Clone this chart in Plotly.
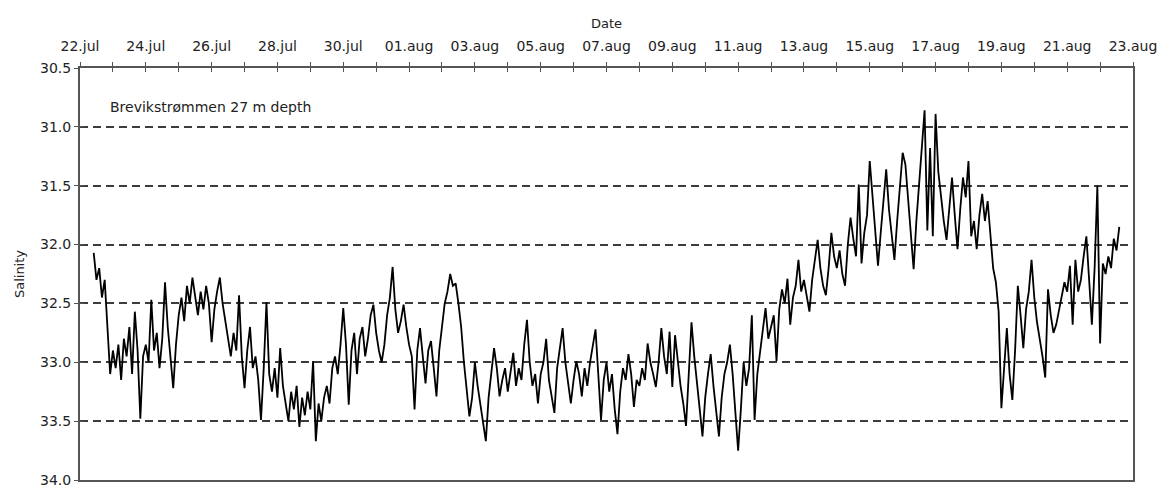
import plotly.graph_objects as go
import pandas as pd

# Salinity, 2-hourly, starting 22.jul 10:00
week1 = [32.07, 32.30, 32.20, 32.45, 32.30, 32.76, 33.10,
         32.90, 33.05, 32.85, 33.15, 32.80, 32.95, 32.70, 33.10, 32.57, 32.90, 33.48, 32.95,
         32.85, 33.00, 32.47, 32.90, 32.75, 33.05, 32.80, 32.32, 32.70, 32.95, 33.22, 32.85,
         32.60, 32.45, 32.65, 32.35, 32.50, 32.28, 32.45, 32.60, 32.40, 32.55, 32.35, 32.50,
         32.83, 32.55, 32.40, 32.28, 32.50, 32.65, 32.80, 32.95, 32.75, 32.90, 32.43, 32.95,
         33.22, 32.90, 32.70, 33.05, 32.95, 33.15, 33.49, 33.05, 32.49, 33.10, 33.25, 33.05,
         33.30, 32.88, 33.20, 33.35, 33.50, 33.25, 33.40, 33.20, 33.55, 33.30, 33.45, 33.25]
week2 = [33.40, 32.99, 33.67, 33.35, 33.50, 33.30, 33.20, 33.35, 33.05, 32.95, 33.10, 32.85,
         32.54, 32.85, 33.36, 32.90, 32.75, 33.10, 32.80, 32.70, 32.95, 32.80, 32.60, 32.51,
         32.75, 32.90, 33.00, 32.85, 32.60, 32.45, 32.19, 32.55, 32.75, 32.65, 32.51, 32.70,
         32.85, 32.95, 33.40, 32.90, 32.71, 32.95, 33.18, 32.90, 32.82, 33.05, 33.29, 32.90,
         32.70, 32.50, 32.40, 32.25, 32.35, 32.33, 32.50, 32.70, 33.00, 33.24, 33.46, 33.30,
         33.00, 33.20, 33.35, 33.50, 33.67, 33.30, 33.10, 32.88, 33.05, 33.29, 33.15, 33.05,
         33.25, 33.10, 32.92, 33.20, 33.05, 33.15, 32.85, 32.64, 33.00, 33.20, 33.10, 33.35]
week3 = [33.10, 33.00, 32.80, 33.15, 33.30, 33.43, 33.05, 32.90, 32.71, 33.00, 33.20, 33.35,
         33.15, 32.99, 33.10, 33.29, 33.05, 33.20, 33.00, 32.85, 32.72, 33.10, 33.49, 33.15,
         33.00, 33.25, 33.10, 33.40, 33.61, 33.25, 33.05, 33.15, 32.93, 33.10, 33.38, 33.15,
         33.20, 33.05, 33.15, 32.84, 33.00, 33.10, 33.21, 33.00, 32.71, 32.95, 33.10, 32.74,
         33.21, 32.77, 33.00, 33.20, 33.35, 33.54, 33.10, 32.66, 32.95, 33.20, 33.40, 33.63,
         33.30, 33.10, 32.93, 33.20, 33.40, 33.63, 33.30, 33.10, 33.00, 32.85, 33.10, 33.40,
         33.75, 33.40, 33.00, 33.20, 33.05, 32.60, 33.49, 33.10, 32.90, 32.70, 32.54, 32.80]
week4 = [32.70, 32.60, 32.99, 32.55, 32.38, 32.50, 32.29, 32.68, 32.45, 32.35, 32.13, 32.40,
         32.30, 32.45, 32.57, 32.30, 32.15, 31.96, 32.20, 32.35, 32.43, 32.20, 31.90, 32.10,
         32.20, 32.05, 32.25, 32.35, 32.00, 31.77, 31.95, 32.10, 31.49, 32.16, 31.90, 31.75,
         31.29, 31.60, 31.85, 32.18, 31.90, 31.60, 31.36, 31.70, 31.90, 32.13, 31.80, 31.50,
         31.22, 31.32, 31.60, 31.90, 32.21, 31.80, 31.50, 31.16, 30.86, 31.88, 31.18, 31.93,
         30.89, 31.38, 31.60, 31.80, 31.96, 31.70, 31.43, 31.75, 32.04, 31.70, 31.43, 31.60,
         31.29, 31.93, 31.80, 32.04, 31.75, 31.57, 31.80, 31.63, 31.96, 32.20, 32.32, 32.57]
week5 = [33.39, 33.00, 32.71, 33.10, 33.32, 32.90, 32.35, 32.60, 32.88, 32.55, 32.40, 32.13,
         32.45, 32.66, 32.80, 32.95, 33.13, 32.38, 32.60, 32.75, 32.68, 32.55, 32.45, 32.32,
         32.40, 32.18, 32.68, 32.13, 32.40, 32.30, 32.10, 31.93, 32.30, 32.68, 32.20, 31.50,
         32.84, 32.16, 32.25, 32.10, 32.20, 31.95, 32.05, 31.85]

salinity = week1 + week2 + week3 + week4 + week5
times = pd.date_range(start="2000-07-22 10:00", periods=len(salinity), freq="2h")

tick_dates = ["2000-07-22", "2000-07-24", "2000-07-26", "2000-07-28", "2000-07-30",
              "2000-08-01", "2000-08-03", "2000-08-05", "2000-08-07", "2000-08-09",
              "2000-08-11", "2000-08-13", "2000-08-15", "2000-08-17", "2000-08-19",
              "2000-08-21", "2000-08-23"]
tick_labels = ["22.jul", "24.jul", "26.jul", "28.jul", "30.jul", "01.aug", "03.aug",
               "05.aug", "07.aug", "09.aug", "11.aug", "13.aug", "15.aug", "17.aug",
               "19.aug", "21.aug", "23.aug"]
y_ticks = [30.5, 31.0, 31.5, 32.0, 32.5, 33.0, 33.5, 34.0]

FONT = "DejaVu Sans"
TXT = "#222222"
AXC = "#555555"
x_range = ["2000-07-22", "2000-08-23"]
y_range = [34.0, 30.5]

fig = go.Figure()
fig.add_trace(go.Scatter(x=times, y=salinity, mode="lines",
                         line=dict(color="black", width=1.8), showlegend=False,
                         hoverinfo="skip"))
fig.add_trace(go.Scatter(x=[times[0]], y=[salinity[0]], xaxis="x2", yaxis="y2",
                         mode="markers", marker=dict(opacity=0), showlegend=False,
                         hoverinfo="skip"))

fig.update_layout(
    width=1165, height=495,
    margin=dict(l=80, r=32, t=68, b=7),
    paper_bgcolor="white", plot_bgcolor="white",
    font=dict(family=FONT, size=14, color=TXT),
    xaxis=dict(type="date", side="top", range=x_range,
               tickmode="array", tickvals=tick_dates, ticktext=tick_labels,
               ticks="outside", ticklen=4, tickwidth=1, tickcolor=AXC,
               ticklabelstandoff=5,
               minor=dict(ticks="outside", ticklen=4, tickwidth=1, tickcolor=AXC,
                          dtick=86400000, tick0="2000-07-22", showgrid=False),
               showgrid=False, zeroline=False,
               showline=True, linecolor=AXC, linewidth=2, mirror=True,
               title=dict(text="Date", standoff=7, font=dict(size=13)),
               tickfont=dict(size=14)),
    xaxis2=dict(type="date", overlaying="x", side="top", range=x_range,
                tickmode="array", tickvals=tick_dates, showticklabels=False,
                ticks="inside", ticklen=4, tickwidth=1, tickcolor=AXC,
                minor=dict(ticks="inside", ticklen=4, tickwidth=1, tickcolor=AXC,
                           dtick=86400000, tick0="2000-07-22", showgrid=False),
                showgrid=False, zeroline=False, showline=False),
    yaxis=dict(range=y_range, tickmode="array", tickvals=y_ticks,
               tickformat=".1f", ticks="outside", ticklen=4, tickwidth=1,
               tickcolor=AXC, showgrid=True, gridcolor="#3c3c3c", gridwidth=2,
               griddash="8px,5px", zeroline=False,
               showline=True, linecolor=AXC, linewidth=2, mirror=True,
               title=dict(text="Salinity", standoff=12, font=dict(size=13)),
               tickfont=dict(size=14)),
    yaxis2=dict(range=y_range, overlaying="y", tickmode="array", tickvals=y_ticks,
                showticklabels=False, ticks="inside", ticklen=4, tickwidth=1,
                tickcolor=AXC, showgrid=False, zeroline=False, showline=False),
    annotations=[dict(text="Brevikstrømmen 27 m depth", xref="paper", yref="paper",
                      x=0.027, y=0.905, xanchor="left", yanchor="middle",
                      showarrow=False, font=dict(size=14, color=TXT))],
)

fig.write_html("out.html")
